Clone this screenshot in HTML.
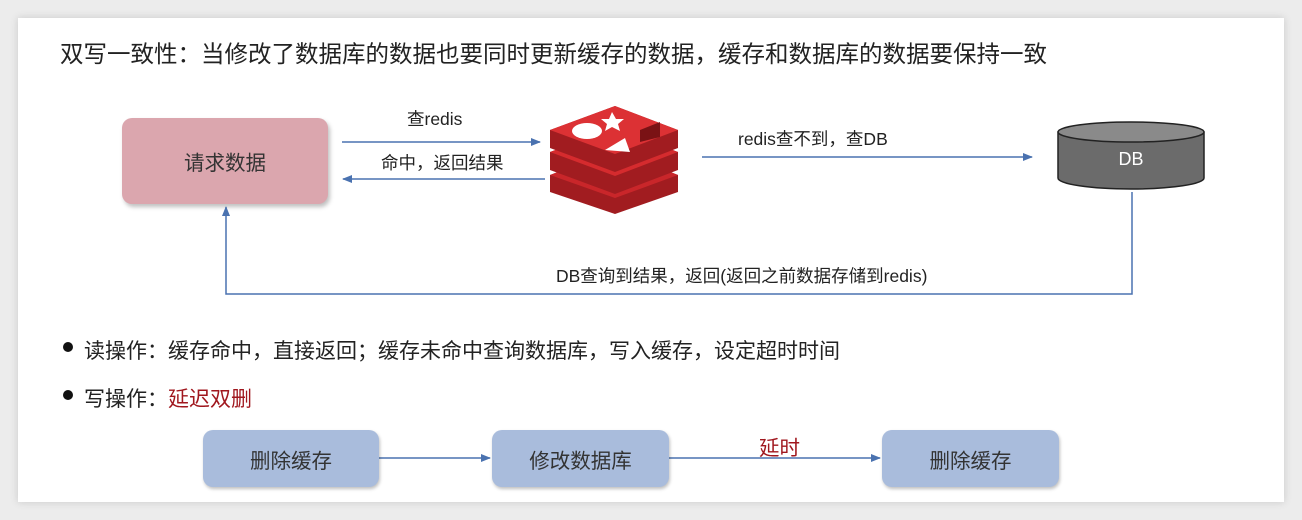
<!DOCTYPE html>
<html><head><meta charset="utf-8"><style>
body{margin:0;width:1302px;height:520px;background:#ececec;font-family:"Liberation Sans","Noto Sans CJK SC",sans-serif;position:relative;overflow:hidden}
.card{position:absolute;left:18px;top:18px;width:1266px;height:484px;background:#fff;box-shadow:0 0 8px rgba(0,0,0,.15)}
.t{position:absolute;white-space:nowrap;color:#222}
.box{position:absolute;display:flex;align-items:center;justify-content:center;font-size:20.5px;color:#333;border-radius:10px}
.pb{background:#a9bcdc;box-shadow:1px 2px 3px rgba(0,0,0,.25)}
</style></head><body>
<div class="card"></div>
<div class="t" style="left:60px;top:35px;font-size:23.5px">双写一致性：当修改了数据库的数据也要同时更新缓存的数据，缓存和数据库的数据要保持一致</div>
<div class="box" style="left:122px;top:118px;width:206px;height:86px;background:#dba6ae;box-shadow:2px 3px 4px rgba(0,0,0,.25)">请求数据</div>
<div class="t" style="left:407px;top:106px;font-size:17.5px">查redis</div>
<div class="t" style="left:381px;top:150px;font-size:17.5px">命中，返回结果</div>
<div class="t" style="left:738px;top:126px;font-size:17.5px">redis查不到，查DB</div>
<div class="t" style="left:556px;top:263px;font-size:17.5px">DB查询到结果，返回(返回之前数据存储到redis)</div>
<svg style="position:absolute;left:0;top:0" width="1302" height="520">
<defs><marker id="a" markerWidth="10" markerHeight="10" refX="9" refY="5" orient="auto" markerUnits="userSpaceOnUse"><path d="M0,1 L10,5 L0,9z" fill="#4a72b0"/></marker></defs>
<g stroke="#4a72b0" stroke-width="1.5" fill="none">
<line x1="342" y1="142" x2="540" y2="142" marker-end="url(#a)"/>
<line x1="545" y1="179" x2="343" y2="179" marker-end="url(#a)"/>
<line x1="702" y1="157" x2="1032" y2="157" marker-end="url(#a)"/>
<polyline points="1132,192 1132,294 226,294 226,207" marker-end="url(#a)"/>
<line x1="379" y1="458" x2="490" y2="458" marker-end="url(#a)"/>
<line x1="669" y1="458" x2="880" y2="458" marker-end="url(#a)"/>
</g>
<g>
<path d="M550,175 L615,150 L678,175 L678,192 L615,214 L550,192z" fill="#a11c20"/>
<path d="M550,175 L615,198 L678,175 L615,150z" fill="#c9262a"/>
<path d="M550,152 L615,128 L678,152 L678,170 L615,194 L550,170z" fill="#a11c20"/>
<path d="M550,152 L615,176 L678,152 L615,128z" fill="#d52b2e"/>
<path d="M550,130 L615,106 L678,130 L678,148 L615,172 L550,148z" fill="#a11c20"/>
<path d="M550,130 L615,154 L678,130 L615,106z" fill="#dc3134"/>
<ellipse cx="587" cy="131" rx="15" ry="8" fill="#fff"/>
<polygon points="612,112 616,119 624,119 618,124 620,131 612,127 605,131 607,124 601,119 609,119" fill="#fff"/>
<polygon points="605,150 625,138 630,152" fill="#fff"/>
<polygon points="640,130 660,122 660,137 640,142" fill="#7a1215"/>
</g>
<path d="M1058,132 L1058,178 A73,11 0 0 0 1204,178 L1204,132z" fill="#6b6b6b" stroke="#222" stroke-width="1.5"/>
<ellipse cx="1131" cy="132" rx="73" ry="10" fill="#8a8a8a" stroke="#222" stroke-width="1.5"/>
<text x="1131" y="165" font-size="18" fill="#fff" text-anchor="middle" font-family="Liberation Sans">DB</text>
<circle cx="68" cy="347" r="5" fill="#111"/>
<circle cx="68" cy="395" r="5" fill="#111"/>
</svg>
<div class="t" style="left:84px;top:335px;font-size:21px">读操作：缓存命中，直接返回；缓存未命中查询数据库，写入缓存，设定超时时间</div>
<div class="t" style="left:84px;top:383px;font-size:21px">写操作：<span style="color:#a0171e">延迟双删</span></div>
<div class="box pb" style="left:203px;top:430px;width:176px;height:57px">删除缓存</div>
<div class="box pb" style="left:492px;top:430px;width:177px;height:57px">修改数据库</div>
<div class="box pb" style="left:882px;top:430px;width:177px;height:57px">删除缓存</div>
<div class="t" style="left:759px;top:431px;font-size:20.5px;color:#a0171e">延时</div>
</body></html>
